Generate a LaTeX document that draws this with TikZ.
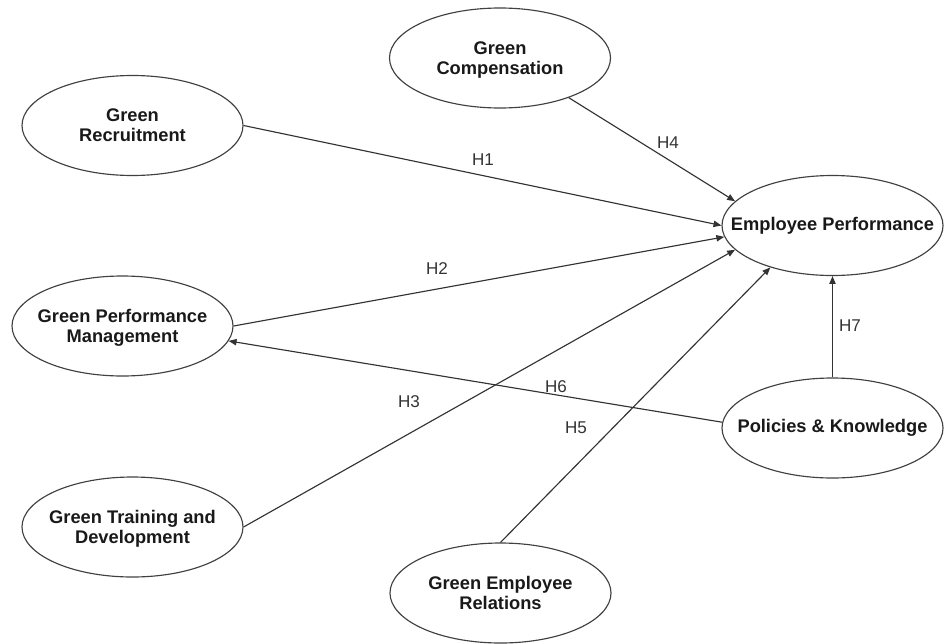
\documentclass[tikz,border=0pt]{standalone}
\usepackage{fontspec}
\setmainfont{Liberation Sans}
\usetikzlibrary{shapes.geometric,arrows.meta}
\newcommand{\twolines}[2]{\makebox[0pt]{\raisebox{-1.4pt}[\height][\depth]{\begin{tabular}{@{}c@{}}#1\\#2\end{tabular}}}}
\begin{document}
\begin{tikzpicture}[scale=0.2]
\tikzstyle{every node}+=[inner sep=0pt]
\tikzstyle{construct}=[draw=black!75, line width=0.65pt, ellipse, minimum width=4.42cm, minimum height=2cm, font=\fontsize{10.4}{11.4}\selectfont\bfseries, text=black!90]
\tikzstyle{hyp}=[font=\fontsize{9.7}{11}\selectfont, text=black!80]
\tikzstyle{link}=[draw=black!80, line width=0.65pt, -{Triangle[length=4.5pt,width=3.6pt]}]
\useasboundingbox (0,0) rectangle (94.7,-64.3);
\node [construct] (gc) at (50.0,-5.8) {\twolines{Green}{Compensation}};
\node [construct] (gr) at (13.25,-12.55) {\twolines{Green}{Recruitment}};
\node [construct] (ep) at (83.25,-22.55) {\makebox[0pt]{Employee Performance}};
\node [construct] (gpm) at (12.25,-32.6) {\twolines{Green Performance}{Management}};
\node [construct] (pk) at (83.25,-42.8) {\makebox[0pt]{Policies \& Knowledge}};
\node [construct] (gtd) at (13.25,-52.7) {\twolines{Green Training and}{Development}};
\node [construct] (ger) at (50.05,-59.3) {\twolines{Green Employee}{Relations}};
\draw [link] (gr.east) -- (ep.west);
\node [hyp] (h1) at (48.3,-16.0) {H1};
\draw [link] (gpm.east) -- (ep.186);
\node [hyp] (h2) at (43.7,-26.9) {H2};
\draw [link] (gtd.east) -- (ep.194);
\node [hyp] (h3) at (40.9,-40.2) {H3};
\draw [link] (gc.330) -- (ep.166);
\node [hyp] (h4) at (66.8,-14.3) {H4};
\draw [link] (ger.north) -- (ep.214);
\node [hyp] (h5) at (57.6,-42.8) {H5};
\draw [link] (pk.177) -- (gpm.352);
\node [hyp] (h6) at (55.6,-38.7) {H6};
\draw [link] (pk.north) -- (ep.south);
\node [hyp] (h7) at (85.0,-32.6) {H7};
\end{tikzpicture}
\end{document}
